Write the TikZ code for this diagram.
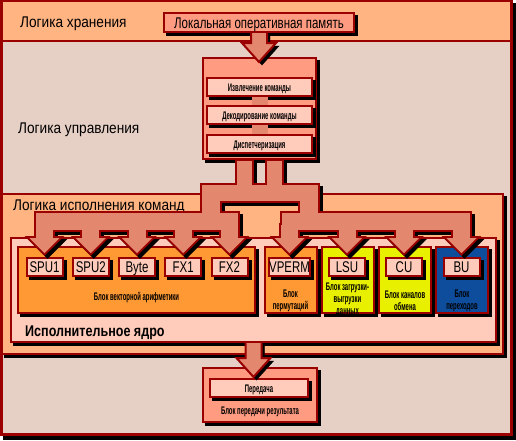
\documentclass[tikz,border=0pt]{standalone}
\usepackage{fontspec}
\setmainfont[FakeStretch=0.88]{Liberation Sans}
\newfontfamily\unitfont[FakeStretch=0.74]{Liberation Sans}
\newfontfamily\corefont[FakeStretch=0.81]{Liberation Sans}
\newfontfamily\narrowfont[FakeStretch=0.54]{Liberation Sans}
\usetikzlibrary{calc, positioning}
\definecolor{mDarkRed}{HTML}{9A0000}
\definecolor{mPeach}{HTML}{FFB482}
\definecolor{mGreyPink}{HTML}{E6CFC5}
\definecolor{mSalmon}{HTML}{FF9B80}
\definecolor{mLightPink}{HTML}{FFCBBA}
\definecolor{mArrow}{HTML}{E4876F}
\definecolor{mOrange}{HTML}{FF9933}
\definecolor{mYellow}{HTML}{E8F000}
\definecolor{mBlue}{HTML}{0E4C9C}
\tikzset{
  shadowed/.style={preaction={fill=black, draw=black, transform canvas={shift={(3pt,-3pt)}}}},
  boxbase/.style={draw=mDarkRed, line width=2pt, inner sep=0pt, shadowed},
  unit/.style={boxbase, fill=mLightPink, minimum width=36pt, minimum height=18pt,
    text height=11pt, text depth=0pt, font=\unitfont\fontsize{15.5}{16}\selectfont},
  stage/.style={boxbase, fill=mLightPink, minimum width=105pt, minimum height=18pt,
    text height=8pt, text depth=0pt, font=\narrowfont\bfseries\fontsize{11}{12}\selectfont},
  block/.style={boxbase, minimum width=52pt, minimum height=66pt},
  note/.style={font=\narrowfont\bfseries\fontsize{11}{12}\selectfont, align=center, inner sep=0pt},
  region/.style={font=\fontsize{15.5}{16}\selectfont, anchor=base west, inner sep=0pt},
  fatarrow/.style={fill=mArrow, draw=mDarkRed, line width=2pt, shadowed}
}
% wide arrow from #1 down into #2, tip #3 below the top of #2
\newcommand{\fatarrow}[3]{%
  \filldraw[fatarrow] let \p1=(#1.south), \p2=(#2.north) in
    (\x1-8pt,\y1) -- (\x1-8pt,\y2-#3pt+19pt) -- (\x1-17pt,\y2-#3pt+19pt) -- (\x1,\y2-#3pt)
    -- (\x1+17pt,\y2-#3pt+19pt) -- (\x1+8pt,\y2-#3pt+19pt) -- (\x1+8pt,\y1);
}
% pieces of the issue bus
\newcommand{\buspieces}[1]{%
  \foreach \xa/\ya/\xb/\yb in {237/161/252/201, 267/161/282/201, 202/185/318/201,
      202/185/220/230, 300/185/318/230, 36/213/238/230, 282/213/470/230}
    \path[#1] (\xa,\ya) rectangle (\xb,\yb);
  \foreach \u in {spu1,spu2,byte,fx1,fx2,vperm,lsu,cu,bu} {
    \path[#1] ([xshift=-8.5pt,yshift=28pt]\u-tip) rectangle ([xshift=8.5pt,yshift=14pt]\u-tip);
    \path[#1] ([xshift=-15pt,yshift=15pt]\u-tip) -- ([xshift=15pt,yshift=15pt]\u-tip) -- (\u-tip) -- cycle;
  }
}
\begin{document}
\begin{tikzpicture}[x=1pt,y=-1pt]
  \useasboundingbox (0,0) rectangle (516,440);
  \fill[black] (3,3) rectangle (516,440);
  \fill[mGreyPink] (0,0) rectangle (513,436);
  \fill[mPeach] (0,0) rectangle (513,41);
  \draw[mDarkRed, line width=2pt] (0,41) -- (513,41);
  \node[region] (storage) at (20,27) {Логика хранения};
  \node[region] (control) at (18,133) {Логика управления};
  \node[boxbase, fill=mSalmon, minimum width=190pt, minimum height=19pt, text height=11pt, text depth=0pt,
    font=\unitfont\fontsize{15.5}{16}\selectfont] (mem) at (259,22.5) {Локальная оперативная память};

  % control logic
  \node[boxbase, fill=mSalmon, minimum width=113pt, minimum height=101pt] (ctrl) at (259.5,108.5) {};
  \node[stage] (fetch) at (259.5,87) {Извлечение команды};
  \node[stage] (decode) at ($(fetch)+(0,28)$) {Декодирование команды};
  \node[stage] (dispatch) at ($(decode)+(0,29)$) {Диспетчеризация};
  \fill[mArrow] ([xshift=-8pt]fetch.south) rectangle ([xshift=8pt]decode.north);
  \fill[mArrow] ([xshift=-8pt]decode.south) rectangle ([xshift=8pt]dispatch.north);
  \fatarrow{mem}{ctrl}{5}

  % execution logic
  \node[boxbase, fill=mPeach, minimum width=501pt, minimum height=160pt] (exec) at (252.5,274) {};
  \node[region] (execlbl) at (13,210) {Логика исполнения команд};
  \node[boxbase, fill=mLightPink, minimum width=485pt, minimum height=104pt] (core) at (253.5,290) {};
  \node[region, font=\corefont\bfseries\fontsize{15.5}{16}\selectfont] (corelbl) at (25,336) {Исполнительное ядро};

  \node[block, fill=mOrange, minimum width=237pt] (vecblk) at (136.5,280) {};
  \node[block, fill=mOrange] (permblk) at (290.5,280) {};
  \node[block, fill=mYellow] (lsublk) at ($(permblk)+(57,0)$) {};
  \node[block, fill=mYellow] (cublk) at ($(lsublk)+(57.5,0)$) {};
  \node[block, fill=mBlue] (bublk) at ($(cublk)+(57,0)$) {};

  \node[unit] (spu1) at (44.5,267) {SPU1};
  \node[unit] (spu2) at ($(spu1)+(46.25,0)$) {SPU2};
  \node[unit] (byte) at ($(spu2)+(46.25,0)$) {Byte};
  \node[unit] (fx1) at ($(byte)+(46.25,0)$) {FX1};
  \node[unit] (fx2) at ($(fx1)+(46.25,0)$) {FX2};
  \node[unit] (vperm) at ($(permblk)+(-1,-13)$) {VPERM};
  \node[unit] (lsu) at ($(lsublk)+(-0.5,-13)$) {LSU};
  \node[unit] (cu) at ($(cublk)+(-1,-13)$) {CU};
  \node[unit] (bu) at ($(bublk)+(-0.5,-13)$) {BU};

  \node[note] (vecnote) at ($(vecblk)+(0,18)$) {Блок векторной арифметики};
  \node[note] (permnote) at ($(permblk)+(0,21)$) {Блок\\пермутаций};
  \node[note] (lsunote) at ($(lsublk)+(0,20)$) {Блок загрузки-\\выгрузки\\данных};
  \node[note] (cunote) at ($(cublk)+(0,21)$) {Блок каналов\\обмена};
  \node[note] (bunote) at ($(bublk)+(0,21)$) {Блок\\переходов};

  % issue bus from dispatch to the units
  \coordinate (tipline) at (0,253);
  \foreach \u in {spu1,spu2,byte,fx1,fx2,vperm,lsu,cu,bu}
    \coordinate (\u-tip) at (\u.north |- tipline);
  \begin{scope}[transform canvas={shift={(3pt,-3pt)}}]
    \buspieces{fill=black, draw=black, line width=4pt}
  \end{scope}
  \buspieces{fill=mDarkRed, draw=mDarkRed, line width=4pt}
  \buspieces{fill=mArrow}

  % result
  \node[boxbase, fill=mSalmon, minimum width=114pt, minimum height=54pt] (result) at (260,395) {};
  \node[stage, minimum width=98pt] (transfer) at (259,388) {Передача};
  \node[note] (resnote) at (260,412) {Блок передачи результата};
  \fatarrow{core}{result}{10}

  \draw[mDarkRed, line width=3pt] (1.5,0) rectangle (511.5,434.5);
\end{tikzpicture}
\end{document}
